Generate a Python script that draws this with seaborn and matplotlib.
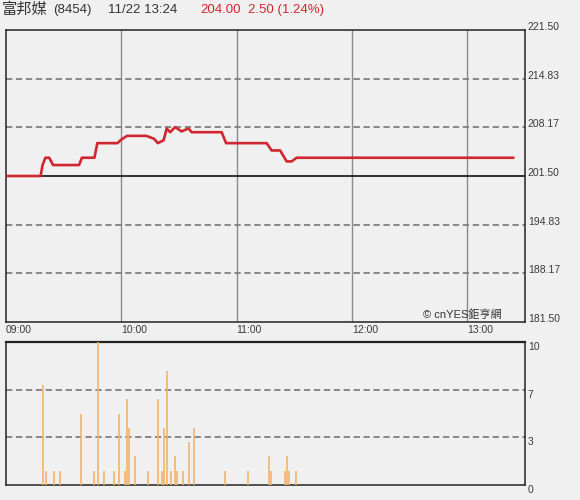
import numpy as np
import pandas as pd
import seaborn as sns
import matplotlib
matplotlib.use("Agg")
import matplotlib.pyplot as plt

# --- data (minutes after 09:00) ---
price_min = [0, 18, 19, 20.5, 22.5, 24.5, 38, 39.5, 46, 47.5, 58, 60, 63, 73, 75, 77, 79,
             82, 83.6, 85.4, 88, 91.4, 93, 95, 96.6, 112.2, 114.5, 135.6, 138.2, 142.6,
             146, 148.6, 151.2, 264]
price_val = [201.5, 201.5, 203.0, 204.0, 204.0, 203.0, 203.0, 204.0, 204.0, 206.0, 206.0,
             206.5, 207.0, 207.0, 206.8, 206.6, 206.0, 206.4, 208.0, 207.5, 208.2, 207.6,
             207.8, 208.0, 207.5, 207.5, 206.0, 206.0, 205.0, 205.0, 203.5, 203.5, 204.0, 204.0]

vol_min = [19, 21, 25, 28, 39, 46, 48, 51, 56, 59, 62, 63, 64, 67, 74, 79, 81, 82, 84, 86,
           88, 89, 92, 95, 98, 114, 126, 137, 138, 145, 146, 147, 151]
vol_val = [7, 1, 1, 1, 5, 1, 10, 1, 1, 5, 1, 6, 4, 2, 1, 6, 1, 4, 8, 1,
           2, 1, 1, 3, 4, 1, 1, 2, 1, 1, 2, 1, 1]

prev_close = 201.5
price_ticks = [181.5, 188.17, 194.83, 201.5, 208.17, 214.83, 221.5]
time_ticks = [0, 60, 120, 180, 240]
time_labels = ["09:00", "10:00", "11:00", "12:00", "13:00"]
vol_ticks = [0, 10 / 3, 20 / 3, 10]
vol_labels = ["0", "3", "7", "10"]

sns.set_style("white")
plt.rcParams['font.family'] = ['Liberation Sans', 'Noto Sans CJK TC', 'DejaVu Sans']

bg = '#f0f0f0'
red = '#d02630'
fig = plt.figure(figsize=(5.8, 5.0), dpi=100, facecolor=bg)
ax = fig.add_axes([6 / 580, 1 - 322 / 500, 519 / 580, 292 / 500], facecolor=bg)
axv = fig.add_axes([6 / 580, 1 - 485 / 500, 519 / 580, 143 / 500], facecolor=bg)

price = pd.DataFrame({"m": price_min, "p": price_val})
vol = pd.DataFrame({"m": vol_min, "v": vol_val})

# price panel
for t in time_ticks[1:]:
    ax.axvline(t, color='#8a8a8a', lw=1, zorder=1)
for y in price_ticks[1:-1]:
    if y != prev_close:
        ax.axhline(y, color='#808080', lw=1.3, ls=(0, (3.5, 2)), zorder=1)
ax.axhline(prev_close, color='#111111', lw=1.2, zorder=2)
sns.lineplot(data=price, x="m", y="p", ax=ax, color=red, lw=1.9, zorder=3)
ax.set_xlim(0, 270)
ax.set_ylim(181.5, 221.5)
ax.set_xlabel("")
ax.set_ylabel("")
ax.set_xticks(time_ticks)
ax.set_xticklabels(time_labels)
for lab in ax.get_xticklabels():
    lab.set_horizontalalignment('left')
ax.yaxis.tick_right()
ax.set_yticks(price_ticks)
ax.set_yticklabels(["%.2f" % v for v in price_ticks])
for lab in ax.get_yticklabels():
    lab.set_verticalalignment('baseline')
ax.tick_params(length=0, labelsize=7.5, colors='#3a3a3a', pad=2)
for s in ax.spines.values():
    s.set_color('#222222')
    s.set_linewidth(1.1)
ax.text(0.803, 0.024, "© cnYES鉅亨網", transform=ax.transAxes, fontsize=8,
        color='#333333', va='center', ha='left')

# volume panel
for y in vol_ticks[1:-1]:
    axv.axhline(y, color='#808080', lw=1.3, ls=(0, (3.5, 2)), zorder=1)
axv.vlines(vol["m"], 0, vol["v"], color='#f3b36a', lw=1.2, zorder=3)
axv.set_xlim(0, 270)
axv.set_ylim(0, 10)
axv.set_xticks([])
axv.yaxis.tick_right()
axv.set_yticks(vol_ticks)
axv.set_yticklabels(vol_labels)
for lab in axv.get_yticklabels():
    lab.set_verticalalignment('top')
axv.tick_params(length=0, labelsize=7.5, colors='#3a3a3a', pad=2)
for s in axv.spines.values():
    s.set_color('#222222')
    s.set_linewidth(1.1)
axv.spines['top'].set_linewidth(1.6)

# header
fig.text(2 / 580, 0.98, "富邦媒", fontsize=11, color='#333333', va='center')
fig.text(53 / 580, 0.98, "(8454)", fontsize=9.5, color='#333333', va='center')
fig.text(108 / 580, 0.98, "11/22 13:24", fontsize=9.5, color='#333333', va='center')
fig.text(200 / 580, 0.98, "204.00", fontsize=9.5, color=red, va='center')
fig.text(248 / 580, 0.98, "2.50 (1.24%)", fontsize=9.5, color=red, va='center')

fig.savefig("out.png", dpi=100, facecolor=bg)
